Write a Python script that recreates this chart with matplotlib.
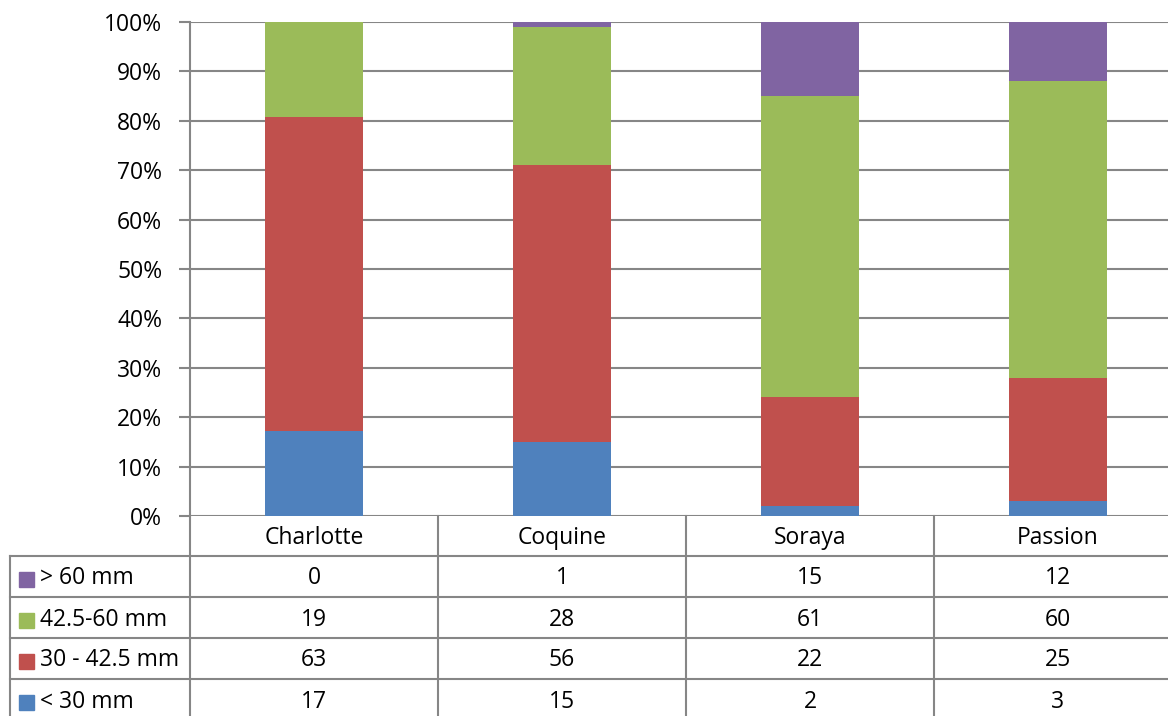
import matplotlib
matplotlib.use("Agg")
import matplotlib.pyplot as plt
from matplotlib.patches import Rectangle
import numpy as np

plt.rcParams['font.family'] = ['Open Sans', 'DejaVu Sans']

varieties = ["Charlotte", "Coquine", "Soraya", "Passion"]
# series listed bottom-to-top in the stack
series_names = ["< 30 mm", "30 - 42.5 mm", "42.5-60 mm", "> 60 mm"]
under_30 = [17, 15, 2, 3]
from_30_to_42_5 = [63, 56, 22, 25]
from_42_5_to_60 = [19, 28, 61, 60]
over_60 = [0, 1, 15, 12]
colors = ["#4F81BD", "#C0504D", "#9BBB59", "#8064A2"]
y_ticks = [0, 10, 20, 30, 40, 50, 60, 70, 80, 90, 100]

W, H = 1168, 716
FS = 16.5
fig = plt.figure(figsize=(W / 100, H / 100), dpi=100)
grid_col = "#868686"

# plot area in pixel coordinates (runs a little past the right edge)
x0, x1 = 190, 1182
y_top, y_bot = 22, 516
ax = fig.add_axes([x0 / W, 1 - y_bot / H, (x1 - x0) / W, (y_bot - y_top) / H])

series = [under_30, from_30_to_42_5, from_42_5_to_60, over_60]
counts = np.array(series, dtype=float)
totals = counts.sum(axis=0)
pct = counts / totals * 100
pos = np.arange(len(varieties))
bottom = np.zeros(len(varieties))
for vals, col in zip(pct, colors):
    ax.bar(pos, vals, bottom=bottom, width=0.395, color=col, zorder=3)
    bottom += vals

ax.set_xlim(-0.5, len(varieties) - 0.5)
ax.set_ylim(0, 100)
ax.set_yticks(y_ticks)
ax.set_yticklabels([f"{t}%" for t in y_ticks], fontsize=FS)
ax.yaxis.grid(True, color=grid_col, linewidth=1.5, zorder=0)
ax.set_xticks([])
ax.tick_params(axis='y', length=8, width=1.5, color=grid_col, pad=12)
for s in ["top", "right", "bottom"]:
    ax.spines[s].set_visible(False)
ax.spines["left"].set_color(grid_col)
ax.spines["left"].set_linewidth(1.5)

# data table beneath the bars, drawn in pixel coordinates
tab = fig.add_axes([0, 0, 1, 1])
tab.set_xlim(0, W)
tab.set_ylim(H, 0)
tab.axis("off")

col_edges = np.linspace(x0, x1, len(varieties) + 1)
row_edges = [516, 556, 597, 638, 679, 720]
lw = 1.5
for xe in col_edges:
    tab.plot([xe, xe], [row_edges[0], row_edges[-1]], color=grid_col, lw=lw)
tab.plot([10, 10], [row_edges[1], row_edges[-1]], color=grid_col, lw=lw)
for ye in row_edges[1:-1]:
    tab.plot([10, x1], [ye, ye], color=grid_col, lw=lw)

# header row with category names
for i, name in enumerate(varieties):
    xc = (col_edges[i] + col_edges[i + 1]) / 2
    tab.text(xc, (row_edges[0] + row_edges[1]) / 2 + 2, name, ha="center", va="center", fontsize=FS)

# value rows, top row is the top of the stack
for r, k in enumerate(range(len(series) - 1, -1, -1)):
    yc = (row_edges[r + 1] + row_edges[r + 2]) / 2 + 2
    if r == 3:
        yc = 702
    tab.add_patch(Rectangle((19, yc - 7), 15, 15, color=colors[k]))
    tab.text(40, yc, series_names[k], ha="left", va="center", fontsize=FS)
    for i, v in enumerate(series[k]):
        xc = (col_edges[i] + col_edges[i + 1]) / 2
        tab.text(xc, yc, str(v), ha="center", va="center", fontsize=FS)

fig.savefig("out.png", dpi=100)
